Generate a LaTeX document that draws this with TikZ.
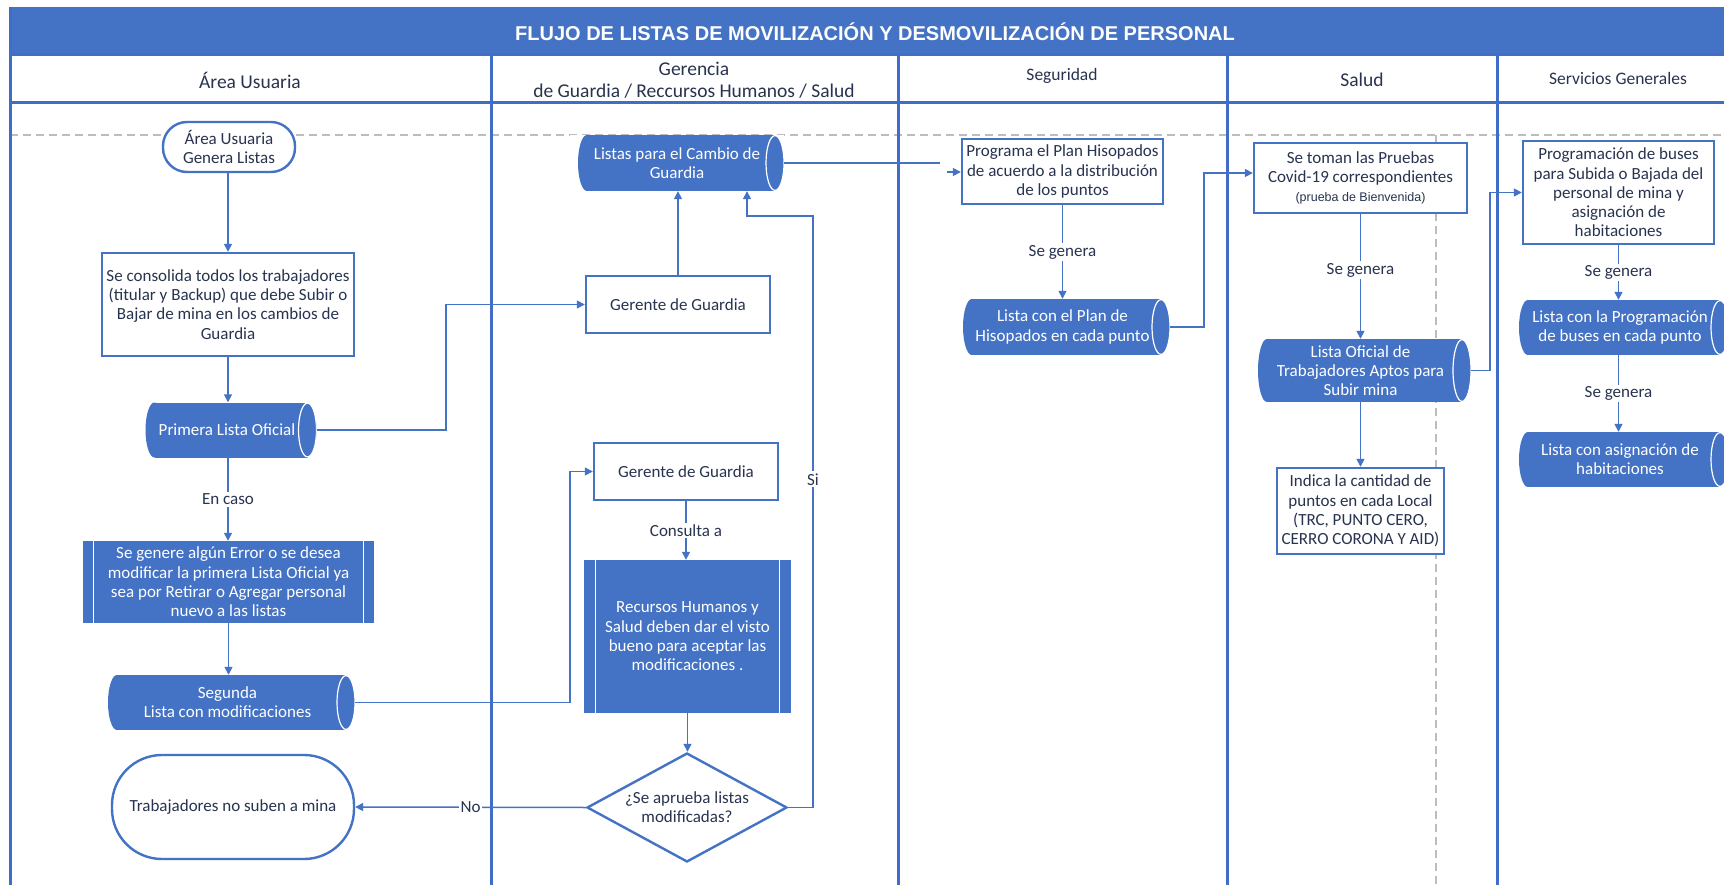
\documentclass[tikz,border=0pt]{standalone}
\usepackage{fontspec}
\setmainfont{Carlito}
\newfontfamily\arialf{Liberation Sans}
\usetikzlibrary{shapes.geometric,arrows.meta}
\definecolor{vblue}{HTML}{4472C4}
\definecolor{lblue}{HTML}{3F6DC8}
\definecolor{txt}{HTML}{28334F}
\definecolor{dgray}{HTML}{BDBDBD}
\begin{document}
\begin{tikzpicture}[x=1pt,y=-1pt,
  every node/.style={font=\fontsize{17}{19.3}\selectfont, text=txt, align=center, inner sep=0pt},
  box/.style={rectangle, draw=vblue, line width=2.4pt, fill=white},
  term/.style={rectangle, draw=vblue, line width=2.4pt, fill=white},
  cyl/.style={rectangle, fill=white, text=white, minimum height=#1pt,
    path picture={
      \fill[vblue] ([xshift=17pt]path picture bounding box.north west) rectangle ([xshift=-9pt]path picture bounding box.south east);
      \fill[vblue] ([xshift=17pt]path picture bounding box.west) ellipse [x radius=9pt, y radius={0.5*#1pt}];
      \draw[white, fill=vblue, line width=1.2pt] ([xshift=-9pt]path picture bounding box.east) ellipse [x radius=9pt, y radius={0.5*#1pt-0.6pt}];
    }},
  sub/.style={rectangle, fill=vblue, text=white},
  dia/.style={diamond, draw=vblue, line width=2.4pt, fill=white, aspect=1.83, minimum width=200pt, minimum height=109pt},
  conn/.style={draw=vblue, line width=1.5pt},
  arr/.style={conn, -{Triangle[length=8pt,width=8pt]}},
  lbl/.style={fill=white, inner sep=2pt, font=\fontsize{17}{19}\selectfont},
  lane/.style={draw=lblue, line width=3pt},
  hdr/.style={font=\fontsize{19.5}{22}\selectfont},
  hdrs/.style={font=\fontsize{17.5}{20}\selectfont},
  inner/.style={draw=white, line width=1.2pt}
]
\useasboundingbox (0,0) rectangle (1724,885);
\clip (0,0) rectangle (1724,885);
% background frame
\fill[white] (0,0) rectangle (1724,885);
\fill[vblue] (10,7) rectangle (1730,55);
\draw[dgray, line width=1.3pt, dash pattern=on 8pt off 5pt] (10,135) -- (1730,135);
\draw[dgray, line width=1.3pt, dash pattern=on 8pt off 5pt] (1436,135) -- (1436,890);
\draw[lane] (10,55) -- (1730,55);
\draw[lane] (10,103) -- (1730,103);
\draw[lane] (10,7) -- (10,890);
\draw[lane] (491,55) -- (491,890);
\draw[lane] (898,55) -- (898,890);
\draw[lane] (1227,55) -- (1227,890);
\draw[lane] (1497,55) -- (1497,890);
% title and headers
\node[font=\arialf\bfseries\fontsize{20}{22}\selectfont, text=white] (title) at (875,32) {FLUJO DE LISTAS DE MOVILIZACIÓN Y DESMOVILIZACIÓN DE PERSONAL};
\node[hdr] (h1) at (250,80) {Área Usuaria};
\node[hdr] (h2) at (694,80) {Gerencia\\de Guardia / Reccursos Humanos / Salud};
\node[hdrs] (h3) at (1062,76) {Seguridad};
\node[hdr] (h4) at (1362,80) {Salud};
\node[hdrs] (h5) at (1618,78) {Servicios Generales};
% lane 1
\node[term, minimum width=132pt, minimum height=50pt, rounded corners=24pt] (t1) at (229,147) {Área Usuaria\\Genera Listas};
\node[box, minimum width=252pt, minimum height=103pt] (r2) at (228,304.5) {Se consolida todos los trabajadores\\(titular y Backup) que debe Subir o\\Bajar de mina en los cambios de\\Guardia};
\node[cyl=55, minimum width=179pt] (c3) at (227,430) {Primera Lista Oficial};
\node[sub, minimum width=291pt, minimum height=82pt] (s5) at (228.5,582) {Se genere algún Error o se desea\\modificar la primera Lista Oficial ya\\sea por Retirar o Agregar personal\\nuevo a las listas};
\node[cyl=55, minimum width=255pt] (c6) at (227.5,702.5) {Segunda\\Lista con modificaciones};
\node[term, minimum width=242pt, minimum height=104pt, rounded corners=50pt] (t7) at (233,807) {Trabajadores no suben a mina};
% lane 2
\node[cyl=56, minimum width=214pt] (c8) at (677,163) {Listas para el Cambio de\\Guardia};
\node[box, minimum width=184pt, minimum height=57pt] (r9) at (678,304.5) {Gerente de Guardia};
\node[box, minimum width=184pt, minimum height=57pt] (r10) at (686,471.5) {Gerente de Guardia};
\node[sub, minimum width=207pt, minimum height=153pt] (s12) at (687.5,636.5) {Recursos Humanos y\\Salud deben dar el visto\\bueno para aceptar las\\modificaciones .};
\node[dia] (d13) at (687,807.5) {¿Se aprueba listas\\modificadas?};
% lane 3
\node[box, minimum width=201pt, minimum height=65pt] (r14) at (1062.5,171.5) {Programa el Plan Hisopados\\de acuerdo a la distribución\\de los puntos};
\node[cyl=56, minimum width=215pt] (c16) at (1062.5,327) {Lista con el Plan de\\Hisopados en cada punto};
% lane 4
\node[box, minimum width=213pt, minimum height=70pt] (r17) at (1360.5,178) {Se toman las Pruebas\\Covid-19 correspondientes\\{\arialf\fontsize{12.5}{14}\selectfont (prueba de Bienvenida)}};
\node[cyl=63, minimum width=221pt] (c19) at (1360.5,370.5) {Lista Oficial de\\Trabajadores Aptos para\\Subir mina};
\node[box, minimum width=167pt, minimum height=86pt] (r20) at (1360.5,511) {Indica la cantidad de\\puntos en cada Local\\(TRC, PUNTO CERO,\\CERRO CORONA Y AID)};
% lane 5
\node[box, minimum width=191pt, minimum height=103pt] (r21) at (1618.5,192.5) {Programación de buses\\para Subida o Bajada del\\personal de mina y\\asignación de\\habitaciones};
\node[cyl=55, minimum width=218pt] (c23) at (1620,327.5) {Lista con la Programación\\de buses en cada punto};
\node[cyl=55, minimum width=218pt] (c25) at (1620,459.5) {Lista con asignación de\\habitaciones};
% subprocess inner lines
\draw[inner] ([xshift=11pt]s5.north west) -- ([xshift=11pt]s5.south west);
\draw[inner] ([xshift=-11pt]s5.north east) -- ([xshift=-11pt]s5.south east);
\draw[inner] ([xshift=12pt]s12.north west) -- ([xshift=12pt]s12.south west);
\draw[inner] ([xshift=-12pt]s12.north east) -- ([xshift=-12pt]s12.south east);
% coordinates
\coordinate (k1) at (446,306);
\coordinate (k2) at (570,472);
\coordinate (k3) at (813,216);
\coordinate (k4) at (747,216);
\coordinate (k5) at (940,163);
\coordinate (k6) at (947,172);
\coordinate (k7) at (1204,173);
\coordinate (k8) at (1490,193);
% connectors
\draw[arr] (t1.south -| r2.north) -- (r2.north);
\draw[arr] (r2.south) -- (r2.south |- c3.north);
\draw[arr] (r2.south |- c3.south) -- node[lbl]{En caso} (r2.south |- s5.north);
\draw[arr] (s5.south) -- (s5.south |- c6.north);
\draw[arr] (c3.east) -- (c3.east -| k1) |- (r9.west);
\draw[arr] (r9.north) -- (r9.north |- c8.south);
\draw[arr] (c6.east) -- (c6.east -| k2) |- (r10.west);
\draw[arr] (r10.south) -- node[lbl]{Consulta a} (r10.south |- s12.north);
\draw[arr] (s12.south) -- (s12.south |- d13.north);
\draw[arr] (d13.west) -- node[lbl]{No} (t7.east);
\draw[arr] (d13.east) -- (d13.east -| k3) -- node[lbl, pos=0.555]{Si} (k3) -- (k4) -- (k4 |- c8.south);
\draw[conn] (c8.east) -- (c8.east -| k5);
\draw[arr] (k6) -- (k6 -| r14.west);
\draw[arr] (r14.south) -- node[lbl]{Se genera} (r14.south |- c16.north);
\draw[arr] (c16.east) -- (c16.east -| k7) -- (k7) -- (k7 -| r17.west);
\draw[arr] (r17.south) -- node[lbl, pos=0.45]{Se genera} (r17.south |- c19.north);
\draw[arr] (r20.north |- c19.south) -- (r20.north);
\draw[arr] (c19.east) -- (c19.east -| k8) |- (r21.west);
\draw[arr] (r21.south) -- node[lbl]{Se genera} (r21.south |- c23.north);
\draw[arr] (r21.south |- c23.south) -- node[lbl]{Se genera} (r21.south |- c25.north);
\end{tikzpicture}
\end{document}
